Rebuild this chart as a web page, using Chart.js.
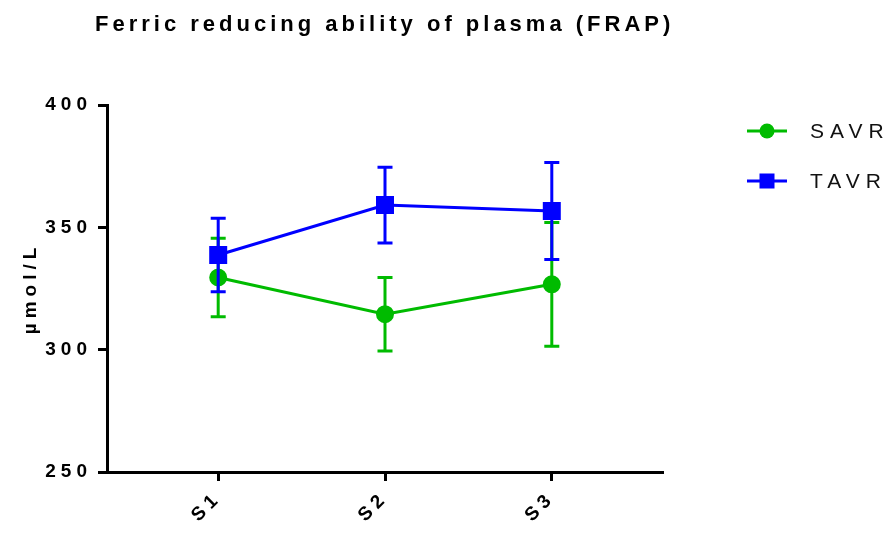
<!DOCTYPE html>
<html>
<head>
<meta charset="utf-8">
<script src="https://cdn.jsdelivr.net/npm/chart.js@4/dist/chart.umd.min.js"></script>
<style>
  html, body { margin: 0; padding: 0; background: #fff; }
  #wrap { width: 888px; height: 536px; }
</style>
</head>
<body>
<div id="wrap"><canvas id="frapChart" width="888" height="536"></canvas></div>
<script>
const chartTitle = "Ferric reducing ability of plasma (FRAP)";
const categories = ["S1", "S2", "S3"];
const savrMean = [329.5, 314.5, 326.7];
const savrErr = [16, 15, 25.3];
const tavrMean = [338.7, 359.1, 356.7];
const tavrErr = [15, 15.5, 19.8];
const yTicks = [250, 300, 350, 400];

const GREEN = "#00bb00";
const BLUE = "#0000ff";
const FONT = "'Liberation Sans', Arial, sans-serif";

function toPoints(means, errs) {
  return means.map((v, i) => ({ x: i + 1, y: v, err: errs[i] }));
}

// spacing between letters, like the original figure
const spacingPlugin = {
  id: "spacing",
  beforeLayout(chart) { chart.ctx.letterSpacing = "5px"; },
  beforeDraw(chart) { chart.ctx.letterSpacing = "5px"; }
};

// error bars drawn under each dataset's line and markers
const errorBars = {
  id: "errorBars",
  beforeDatasetDraw(chart, args) {
    const ds = chart.data.datasets[args.index];
    const ctx = chart.ctx;
    const ys = chart.scales.y;
    const meta = chart.getDatasetMeta(args.index);
    ctx.save();
    ctx.strokeStyle = ds.borderColor;
    ctx.lineWidth = 3;
    ds.data.forEach((p, i) => {
      const x = meta.data[i].x;
      const top = ys.getPixelForValue(p.y + p.err);
      const bot = ys.getPixelForValue(p.y - p.err);
      ctx.beginPath();
      ctx.moveTo(x, top); ctx.lineTo(x, bot);
      ctx.moveTo(x - 7.5, top); ctx.lineTo(x + 7.5, top);
      ctx.moveTo(x - 7.5, bot); ctx.lineTo(x + 7.5, bot);
      ctx.stroke();
    });
    ctx.restore();
  }
};

// title and legend on the right: line with marker and label
const decorations = {
  id: "decorations",
  afterDraw(chart) {
    const ctx = chart.ctx;
    ctx.save();
    ctx.letterSpacing = "4px";
    ctx.font = "bold 22px " + FONT;
    ctx.fillStyle = "#000";
    ctx.textAlign = "left";
    ctx.textBaseline = "alphabetic";
    ctx.fillText(chartTitle, 95, 31);
    ctx.restore();

    const rowY = [131, 181];
    chart.data.datasets.forEach((ds, i) => {
      const y = rowY[i];
      ctx.save();
      ctx.strokeStyle = ds.borderColor;
      ctx.fillStyle = ds.borderColor;
      ctx.lineWidth = 3;
      ctx.beginPath();
      ctx.moveTo(747, y); ctx.lineTo(787, y);
      ctx.stroke();
      if (ds.pointStyle === "rect") {
        ctx.fillRect(767 - 7.5, y - 7.5, 15, 15);
      } else {
        ctx.beginPath();
        ctx.arc(767, y, 7.5, 0, Math.PI * 2);
        ctx.fill();
      }
      ctx.letterSpacing = "6px";
      ctx.font = "21px " + FONT;
      ctx.fillStyle = "#111";
      ctx.textBaseline = "middle";
      ctx.textAlign = "left";
      ctx.fillText(ds.label, 810, y + 1);
      ctx.restore();
    });
  }
};

new Chart(document.getElementById("frapChart"), {
  type: "line",
  data: {
    datasets: [
      {
        label: "SAVR",
        data: toPoints(savrMean, savrErr),
        borderColor: GREEN,
        backgroundColor: GREEN,
        borderWidth: 3,
        pointStyle: "circle",
        pointRadius: 7.5,
        pointHoverRadius: 7.5,
        order: 2
      },
      {
        label: "TAVR",
        data: toPoints(tavrMean, tavrErr),
        borderColor: BLUE,
        backgroundColor: BLUE,
        borderWidth: 3,
        pointStyle: "rect",
        pointRadius: 10.6,
        pointHoverRadius: 10.6,
        order: 1
      }
    ]
  },
  options: {
    responsive: false,
    animation: false,
    events: [],
    layout: { padding: { left: 0, right: 225, top: 105, bottom: 0 } },
    plugins: {
      legend: { display: false },
      tooltip: { enabled: false },
      title: { display: false }
    },
    scales: {
      x: {
        type: "linear",
        min: 1 / 3,
        max: 11 / 3,
        afterBuildTicks(scale) {
          scale.ticks = categories.map((c, i) => ({ value: i + 1 }));
        },
        afterFit(scale) { scale.height = 64; },
        border: { color: "#000", width: 3 },
        grid: { display: true, drawOnChartArea: false, drawTicks: true, tickLength: 9, tickWidth: 3, tickColor: "#000" },
        ticks: {
          color: "#000",
          font: { family: FONT, size: 19, weight: "bold" },
          minRotation: 45,
          maxRotation: 45,
          padding: 6,
          callback: (v) => categories[v - 1]
        }
      },
      y: {
        min: 250,
        max: 400,
        afterBuildTicks(scale) {
          scale.ticks = yTicks.map((v) => ({ value: v }));
        },
        afterFit(scale) { scale.width = 107; },
        border: { color: "#000", width: 3 },
        grid: { display: true, drawOnChartArea: false, drawTicks: true, tickLength: 9, tickWidth: 3, tickColor: "#000" },
        title: {
          display: true,
          text: "µmol/L",
          color: "#000",
          font: { family: FONT, size: 19, weight: "bold" },
          padding: { top: 19, bottom: 0 }
        },
        ticks: {
          color: "#000",
          font: { family: FONT, size: 19, weight: "bold" },
          padding: 6
        }
      }
    }
  },
  plugins: [spacingPlugin, errorBars, decorations]
});
</script>
</body>
</html>
